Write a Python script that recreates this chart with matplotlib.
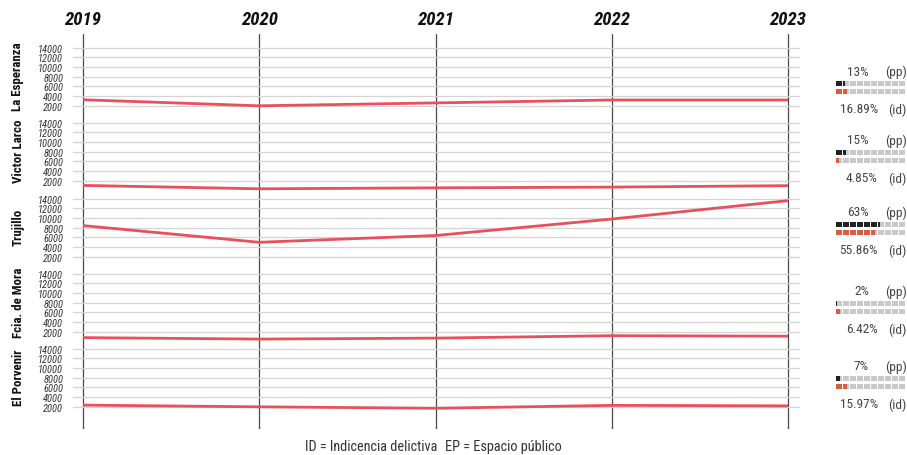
import matplotlib
matplotlib.use("Agg")
import matplotlib.pyplot as plt
from matplotlib.patches import Rectangle

plt.rcParams['font.family'] = ['Roboto Condensed', 'DejaVu Sans']

years = [2019, 2020, 2021, 2022, 2023]
districts = ['La Esperanza', 'Victor Larco', 'Trujillo', 'Fcia. de Mora', 'El Porvenir']
la_esperanza = [3250, 2000, 2600, 3200, 3200]
victor_larco = [1050, 350, 550, 700, 1000]
trujillo = [8450, 5000, 6400, 9800, 13600]
fcia_de_mora = [800, 500, 700, 1200, 1100]
el_porvenir = [2350, 2000, 1700, 2300, 2200]
series = [la_esperanza, victor_larco, trujillo, fcia_de_mora, el_porvenir]
pp_pct = [13, 15, 63, 2, 7]
id_pct = [16.89, 4.85, 55.86, 6.42, 15.97]
grid_vals = [2000, 4000, 6000, 8000, 10000, 12000, 14000]

W, H = 907, 456
fig = plt.figure(figsize=(W / 100, H / 100), dpi=100)

x0, x1 = 73, 800
xlim = (2019 - 10 / 176.25, 2023 + 12 / 176.25)

def fx(px):
    return px / W

def fy(py):
    return 1 - py / H

# background axes with the year verticals
bg = fig.add_axes([fx(x0), fy(430), (x1 - x0) / W, (430 - 35) / H])
bg.set_xlim(*xlim)
bg.set_ylim(0, 1)
bg.axis('off')
for yr in years:
    bg.axvline(yr, color='#4a4a4a', lw=0.9)
    bg.text(yr, 1.015, str(yr), ha='center', va='bottom', fontsize=13.5,
            fontweight='bold', fontstyle='italic', color='#111111',
            transform=bg.get_xaxis_transform())

# panels
zero_px = [116.5, 191.5, 267.5, 342.5, 417.5]
panel_h = 75.3
for i, (name, vals) in enumerate(zip(districts, series)):
    bottom = zero_px[i]
    ax = fig.add_axes([fx(x0), fy(bottom), (x1 - x0) / W, panel_h / H])
    ax.patch.set_alpha(0)
    ax.set_xlim(*xlim)
    ax.set_ylim(0, 15550)
    for g in grid_vals:
        ax.axhline(g, color='#d4d4d4', lw=0.9, zorder=1)
    ax.plot(years, vals, color='#e8505b', lw=2.0, zorder=3, solid_capstyle='butt')
    ax.set_yticks(grid_vals)
    ax.set_yticklabels([str(g) for g in grid_vals], fontsize=7.5, fontstyle='italic',
                       color='#333333')
    ax.tick_params(axis='y', length=0, pad=7)
    ax.set_xticks([])
    for s in ax.spines.values():
        s.set_visible(False)
    fig.text(fx(18), fy(bottom - 40), name, rotation=90, ha='center', va='center',
             fontsize=9.3, fontweight='bold', color='#111111')

# right side indicator bars
ov = fig.add_axes([0, 0, 1, 1])
ov.set_xlim(0, W)
ov.set_ylim(H, 0)
ov.axis('off')
ov.patch.set_alpha(0)
text_y = [72, 141, 213, 292, 367]
cell_w, cell_gap, n_cells, bx = 6, 1, 10, 836
for i in range(len(districts)):
    ty = text_y[i]
    ov.text(869, ty, f"{pp_pct[i]}%", ha='right', va='center', fontsize=9.6, color='#444444')
    ov.text(885, ty, "(pp)", ha='left', va='center', fontsize=9.6, color='#444444')
    ov.text(878, ty + 38, f"{id_pct[i]:.2f}%", ha='right', va='center', fontsize=9.6, color='#444444')
    ov.text(888, ty + 38, "(id)", ha='left', va='center', fontsize=9.6, color='#444444')
    for row, (pct, col) in enumerate([(pp_pct[i], '#222222'), (id_pct[i], '#e05a3c')]):
        cy = ty + 9.5 + row * 8.5
        for c in range(n_cells):
            cx = bx + c * (cell_w + cell_gap)
            ov.add_patch(Rectangle((cx, cy), cell_w, 5, color='#c9c9c9', lw=0))
            frac = min(max(pct / 10 - c, 0), 1)
            if frac > 0:
                ov.add_patch(Rectangle((cx, cy), cell_w * frac, 5, color=col, lw=0))

fig.text(fx(305), fy(447), "ID = Indicencia delictiva", ha='left', va='center',
         fontsize=10.3, color='#333333')
fig.text(fx(445), fy(447), "EP = Espacio público", ha='left', va='center',
         fontsize=10.3, color='#333333')

fig.savefig('out.png', dpi=100)
